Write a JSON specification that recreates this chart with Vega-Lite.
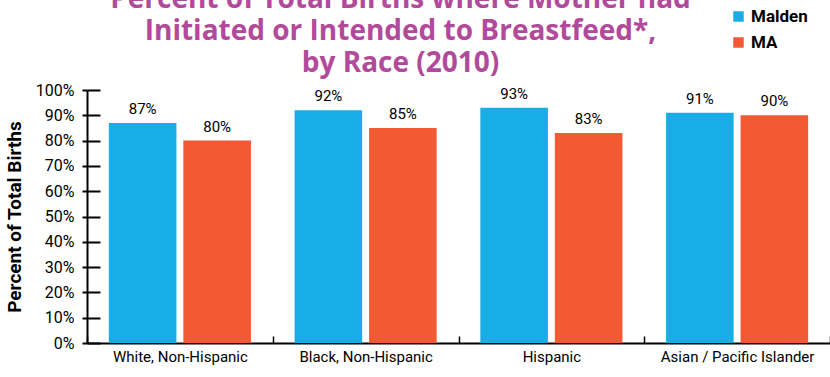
{
  "$schema": "https://vega.github.io/schema/vega-lite/v6.json",
  "width": 743,
  "height": 253,
  "autosize": {"type": "none"},
  "padding": {"left": 87, "top": 90, "right": 0, "bottom": 34},
  "background": "white",
  "title": {
    "text": ["Percent of Total Births where Mother had", "Initiated or Intended to Breastfeed*,", "by Race (2010)"],
    "color": "#b24a9c",
    "font": "Open Sans",
    "fontSize": 28,
    "fontWeight": "bold",
    "lineHeight": 32,
    "anchor": "middle",
    "dx": -58,
    "dy": 80,
    "offset": 10
  },
  "config": {"view": {"stroke": null}},
  "data": {
    "values": [
      {"Race": "White, Non-Hispanic", "Geo": "Malden", "Value": 0.87},
      {"Race": "White, Non-Hispanic", "Geo": "MA", "Value": 0.80},
      {"Race": "Black, Non-Hispanic", "Geo": "Malden", "Value": 0.92},
      {"Race": "Black, Non-Hispanic", "Geo": "MA", "Value": 0.85},
      {"Race": "Hispanic", "Geo": "Malden", "Value": 0.93},
      {"Race": "Hispanic", "Geo": "MA", "Value": 0.83},
      {"Race": "Asian / Pacific Islander", "Geo": "Malden", "Value": 0.91},
      {"Race": "Asian / Pacific Islander", "Geo": "MA", "Value": 0.90}
    ]
  },
  "encoding": {
    "x": {
      "field": "Race", "type": "nominal", "sort": null,
      "scale": {"paddingInner": 0, "paddingOuter": 0},
      "axis": {
        "title": null, "labelAngle": 0, "domainColor": "black", "domainWidth": 2,
        "tickBand": "extent", "tickSize": -7, "tickColor": "black", "tickWidth": 1.5,
        "labelFont": "Roboto", "labelFontSize": 15, "labelColor": "black", "labelPadding": 13
      }
    },
    "xOffset": {
      "field": "Geo", "type": "nominal", "sort": ["Malden", "MA"],
      "scale": {"paddingInner": 0.093, "paddingOuter": 0.293}
    },
    "y": {
      "field": "Value", "type": "quantitative",
      "scale": {"domain": [0, 1], "nice": false},
      "axis": {
        "format": "%", "values": [0, 0.1, 0.2, 0.3, 0.4, 0.5, 0.6, 0.7, 0.8, 0.9, 1],
        "domainColor": "black", "domainWidth": 2,
        "tickColor": "black", "tickSize": 5, "tickWidth": 2,
        "grid": true, "gridDash": [13, 3000], "gridColor": "black", "gridWidth": 2,
        "labelFont": "Roboto", "labelFontSize": 16, "labelColor": "black", "labelPadding": 8,
        "title": "Percent of Total Births", "titleFont": "Roboto", "titleFontSize": 19,
        "titleFontWeight": "bold", "titleColor": "black", "titlePadding": 11
      }
    }
  },
  "layer": [
    {
      "mark": {"type": "bar"},
      "encoding": {
        "color": {
          "field": "Geo", "type": "nominal",
          "scale": {"domain": ["Malden", "MA"], "range": ["#18ade4", "#f15a33"]},
          "legend": {
            "orient": "none", "legendX": 643, "legendY": -82, "title": null,
            "symbolType": "square", "symbolSize": 110, "symbolStrokeWidth": 0,
            "labelFont": "Roboto", "labelFontSize": 17, "labelFontWeight": "bold",
            "labelColor": "black", "rowPadding": 8, "padding": 0
          }
        }
      }
    },
    {
      "mark": {"type": "text", "baseline": "alphabetic", "dy": -9, "font": "Roboto", "fontSize": 15, "color": "black"},
      "encoding": {
        "text": {"field": "Value", "type": "quantitative", "format": ".0%"}
      }
    }
  ]
}
